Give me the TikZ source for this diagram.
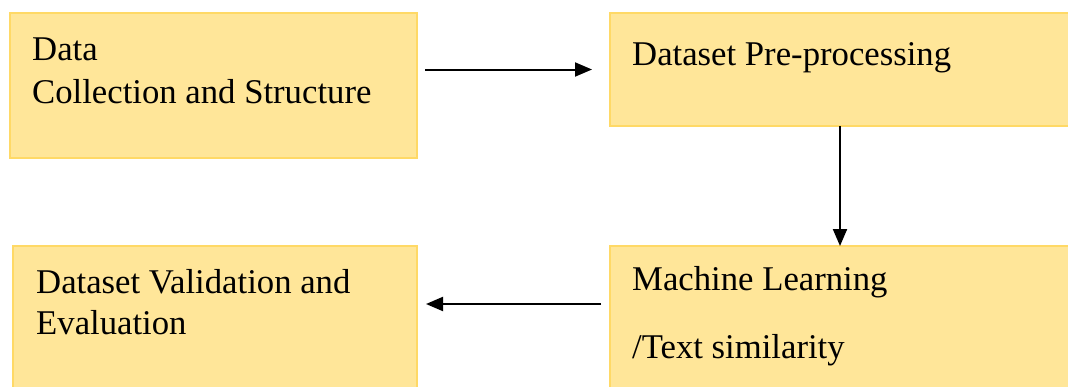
\documentclass[tikz,border=0pt]{standalone}
\usepackage{fontspec}
\setmainfont{Liberation Serif}
\usetikzlibrary{arrows.meta}
\definecolor{boxfill}{HTML}{FFE699}
\definecolor{boxline}{HTML}{FFD966}
\begin{document}
\begin{tikzpicture}[x=1pt,y=-1pt,
  flowbox/.style={draw=boxline,fill=boxfill,line width=2pt,inner sep=0pt,outer sep=0pt},
  label/.style={anchor=base west,inner sep=0pt,font=\fontsize{34.7}{43}\selectfont},
  conn/.style={line width=2pt,-{Triangle[length=17pt,width=14pt]}}]
\useasboundingbox (0,0) rectangle (1068,386);
\clip (0,0) rectangle (1068,386);
\node[flowbox,minimum width=407pt,minimum height=145pt] (b1) at (213.5,85.5) {};
\node[flowbox,minimum width=460pt,minimum height=113pt] (b2) at (840,69.5) {};
\node[flowbox,minimum width=404pt,minimum height=154pt] (b3) at (215,323) {};
\node[flowbox,minimum width=460pt,minimum height=154pt] (b4) at (840,323) {};
\node[label] (t1a) at (32,60) {Data};
\node[label] (t1b) at (32,103) {Collection and Structure};
\node[label] (t2) at (632,65) {Dataset Pre-processing};
\node[label] (t3a) at (36,293) {Dataset Validation and};
\node[label] (t3b) at (36,334) {Evaluation};
\node[label] (t4a) at (632,290) {Machine Learning};
\node[label] (t4b) at (632,358) {/Text similarity};
\draw[conn,shorten <=8pt,shorten >=18pt] (b1.east |- b2.west) -- (b2.west);
\draw[conn] (b2.south) -- (b4.north);
\draw[conn,shorten <=9pt,shorten >=9pt] ([yshift=19pt]b4.west) -- ([yshift=19pt]b3.east);
\end{tikzpicture}
\end{document}
